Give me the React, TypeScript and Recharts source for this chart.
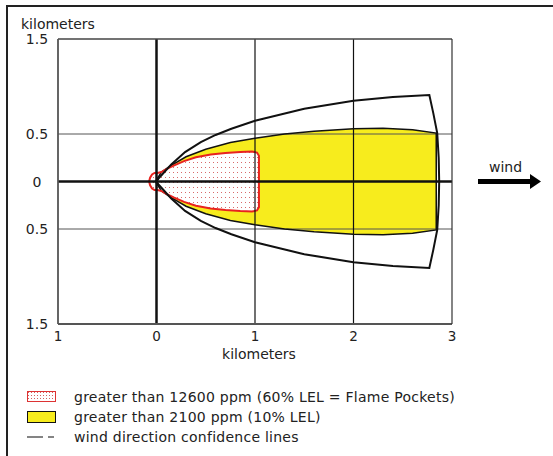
import React from 'react';
import { ComposedChart, Area, Line, XAxis, YAxis, ReferenceLine } from 'recharts';

// x ticks and y ticks (km); labels show absolute values
const xTicks = [-1, 0, 1, 2, 3];
const yTicks = [-1.5, -0.5, 0, 0.5, 1.5];

// red zone (> 12600 ppm): half-width vs downwind distance
const redX = [-0.075, -0.065, -0.045, -0.02, 0.01, 0.05, 0.1, 0.18, 0.28, 0.4, 0.55, 0.7, 0.85, 0.97, 1.02, 1.04];
const redHalf = [0, 0.04, 0.075, 0.09, 0.09, 0.1, 0.13, 0.17, 0.215, 0.255, 0.285, 0.3, 0.31, 0.315, 0.305, 0.27];

// yellow zone (> 2100 ppm)
const yellowX = [-0.01, 0.05, 0.15, 0.3, 0.5, 0.75, 1.0, 1.3, 1.6, 2.0, 2.3, 2.6, 2.84];
const yellowHalf = [0, 0.1, 0.17, 0.26, 0.34, 0.41, 0.455, 0.5, 0.53, 0.555, 0.56, 0.545, 0.51];

// wind direction confidence lines (upper half, then end arc)
const outerX = [0.0, 0.02, 0.08, 0.15, 0.29, 0.45, 0.6, 0.76, 1.0, 1.5, 2.0, 2.4, 2.77];
const outerHalf = [0.0, 0.03, 0.1, 0.18, 0.31, 0.415, 0.49, 0.555, 0.64, 0.765, 0.85, 0.89, 0.91];
const arcX = [2.81, 2.85, 2.865, 2.87];
const arcHalf = [0.72, 0.51, 0.25, 0];

const rangeData = (xs: number[], hs: number[]) => xs.map((x, i) => ({ x, r: [-hs[i], hs[i]] }));
const outlineData = (xs: number[], hs: number[]) => {
  const top = xs.map((x, i) => ({ x, y: hs[i] }));
  const bottom = xs.map((x, i) => ({ x, y: -hs[i] })).reverse();
  return [...top, ...bottom, top[0]];
};
const outerData = (() => {
  const top = outerX.map((x, i) => ({ x, y: outerHalf[i] }));
  const arcTop = arcX.map((x, i) => ({ x, y: arcHalf[i] }));
  const arcBottom = arcX.map((x, i) => ({ x, y: -arcHalf[i] })).reverse();
  const bottom = outerX.map((x, i) => ({ x, y: -outerHalf[i] })).reverse();
  return [...top, ...arcTop, ...arcBottom.slice(1), ...bottom];
})();

const FONT = '"DejaVu Sans", Verdana, sans-serif';
const FS = 14;
const YELLOW = '#f7ec1d';

const YTick = (p: any) => (
  <text x={p.x - 13} y={p.y} dy={5} textAnchor="middle" fontFamily={FONT} fontSize={FS} fill="#222">
    {Math.abs(p.payload.value)}
  </text>
);
const XTick = (p: any) => (
  <text x={p.x} y={p.y} dy={9} textAnchor="middle" fontFamily={FONT} fontSize={13.5} fill="#222">
    {Math.abs(p.payload.value)}
  </text>
);

export default function App() {
  return (
    <div style={{ position: 'absolute', left: 0, top: 0, width: 553, height: 456, overflow: 'hidden', background: '#fff' }}>
      <div style={{ position: 'absolute', left: 6, top: 5, width: 600, height: 500, borderLeft: '2px solid #222', borderTop: '2px solid #222' }} />
      <div style={{ position: 'absolute', left: 0, top: 0 }}>
        <ComposedChart width={553} height={456} margin={{ top: 39, right: 101, bottom: 102, left: 0 }}>
          <defs>
            <pattern id="dots" width="4" height="5" patternUnits="userSpaceOnUse">
              <rect width="4" height="5" fill="#fff" />
              <rect x="1" y="2" width="1" height="1" fill="#d86a6a" />
            </pattern>
          </defs>
          <XAxis
            type="number"
            dataKey="x"
            domain={[-1, 3]}
            ticks={xTicks}
            allowDataOverflow
            axisLine={false}
            tickLine={false}
            height={30}
            tick={<XTick />}
            label={{
              content: (lp: any) => (
                <text x={lp.viewBox.x + lp.viewBox.width / 2 + 4} y={lp.viewBox.y + 35} textAnchor="middle" fontFamily={FONT} fontSize={FS} fill="#222">
                  kilometers
                </text>
              ),
            }}
          />
          <YAxis
            type="number"
            domain={[-1.5, 1.5]}
            ticks={yTicks}
            allowDataOverflow
            axisLine={false}
            tickLine={false}
            width={58}
            tick={<YTick />}
            label={{
              content: (lp: any) => (
                <text x={21} y={lp.viewBox.y - 10} textAnchor="start" fontFamily={FONT} fontSize={FS} fill="#222">
                  kilometers
                </text>
              ),
            }}
          />
          <ReferenceLine y={0.5} stroke="#555" strokeWidth={1} />
          <ReferenceLine y={-0.5} stroke="#555" strokeWidth={1} />
          <Area data={rangeData(yellowX, yellowHalf)} dataKey="r" type="linear" fill={YELLOW} fillOpacity={1} stroke="none" isAnimationActive={false} />
          <Line data={outlineData(yellowX, yellowHalf)} dataKey="y" type="linear" stroke="#111" strokeWidth={1.5} dot={false} isAnimationActive={false} />
          <Area data={rangeData(redX, redHalf)} dataKey="r" type="linear" fill="url(#dots)" fillOpacity={1} stroke="none" isAnimationActive={false} />
          <Line data={outlineData(redX, redHalf)} dataKey="y" type="linear" stroke="#e8231f" strokeWidth={2} dot={false} isAnimationActive={false} />
          <Line data={outerData} dataKey="y" type="linear" stroke="#111" strokeWidth={2} dot={false} isAnimationActive={false} />
          <ReferenceLine x={1} stroke="#111" strokeWidth={1.2} />
          <ReferenceLine x={2} stroke="#111" strokeWidth={1.2} />
          <ReferenceLine x={0} stroke="#111" strokeWidth={2.5} />
          <ReferenceLine y={0} stroke="#111" strokeWidth={2.5} />
          <ReferenceLine y={1.5} stroke="#444" strokeWidth={1.5} />
          <ReferenceLine y={-1.5} stroke="#555" strokeWidth={1.8} />
          <ReferenceLine x={-1} stroke="#555" strokeWidth={1.8} />
          <ReferenceLine x={3} stroke="#333" strokeWidth={1.2} />
        </ComposedChart>
      </div>
      <svg style={{ position: 'absolute', left: 0, top: 0 }} width={553} height={456}>
        <text x={489} y={172} fontFamily={FONT} fontSize={FS} fill="#222">wind</text>
        <line x1={478} y1={181.5} x2={532} y2={181.5} stroke="#000" strokeWidth={5} />
        <polygon points="530,174 541,181.5 530,189" fill="#000" />
      </svg>
      <div style={{ position: 'absolute', left: 27, top: 387, fontFamily: FONT, fontSize: FS, color: '#222', lineHeight: '20px', letterSpacing: 0.25 }}>
        <div style={{ display: 'flex', alignItems: 'center' }}>
          <svg width={29} height={12} style={{ marginRight: 18 }}>
            <defs>
              <pattern id="dots2" width="3" height="3" patternUnits="userSpaceOnUse">
                <rect width="3" height="3" fill="#fff" />
                <rect x="1" y="1" width="1" height="1" fill="#d46060" />
              </pattern>
            </defs>
            <rect x={0.5} y={0.5} width={28} height={10} fill="url(#dots2)" stroke="#d33" strokeWidth={1} />
          </svg>
          <span>greater than 12600 ppm (60% LEL = Flame Pockets)</span>
        </div>
        <div style={{ display: 'flex', alignItems: 'center' }}>
          <svg width={29} height={12} style={{ marginRight: 18 }}>
            <rect x={0.5} y={0.5} width={28} height={11} fill={YELLOW} stroke="#111" strokeWidth={1} />
          </svg>
          <span>greater than 2100 ppm (10% LEL)</span>
        </div>
        <div style={{ display: 'flex', alignItems: 'center' }}>
          <svg width={29} height={12} style={{ marginRight: 18 }}>
            <line x1={0} y1={6} x2={16} y2={6} stroke="#333" strokeWidth={1.2} />
            <line x1={21} y1={6} x2={27} y2={6} stroke="#333" strokeWidth={1.2} />
          </svg>
          <span>wind direction confidence lines</span>
        </div>
      </div>
    </div>
  );
}
